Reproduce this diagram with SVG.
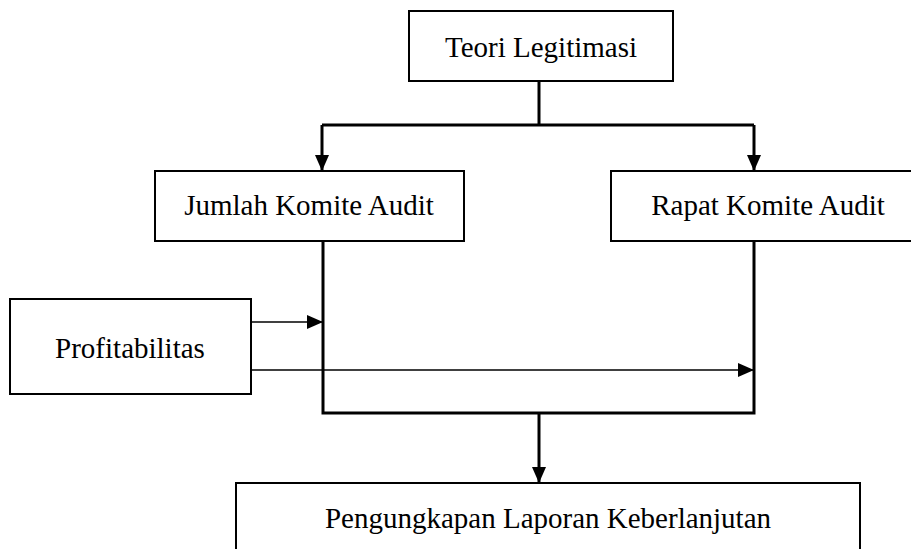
<svg xmlns="http://www.w3.org/2000/svg" width="911" height="549" viewBox="0 0 911 549">
<style>
.box{fill:#fff;stroke:#000;stroke-width:2}
.lbl{font-family:"Liberation Serif","Times New Roman",serif;font-size:29px;fill:#000;text-anchor:middle}
.thick{fill:none;stroke:#000;stroke-width:3}
.thin{fill:none;stroke:#000;stroke-width:1.3}
</style>
<defs>
<marker id="ah" markerUnits="userSpaceOnUse" markerWidth="16" markerHeight="14" refX="16" refY="7" orient="auto" viewBox="0 0 16 14">
<path d="M0,0 L16,7 L0,14 z" fill="#000"/>
</marker>
</defs>
<rect width="911" height="549" fill="#fff"/>
<g id="connectors">
<path class="thick" d="M539,81 V125"/>
<path class="thick" d="M322,125 H754"/>
<path class="thick" d="M322,125 V171" marker-end="url(#ah)"/>
<path class="thick" d="M754,125 V171" marker-end="url(#ah)"/>
<path class="thick" d="M323,241 V413 H754 V241"/>
<path class="thick" d="M539,413 V483" marker-end="url(#ah)"/>
<path class="thin" d="M251,322 H323" marker-end="url(#ah)"/>
<path class="thin" d="M251,370 H754" marker-end="url(#ah)"/>
</g>
<g id="teori">
<rect class="box" x="409" y="11" width="264" height="70"/>
<text class="lbl" x="541" y="57">Teori Legitimasi</text>
</g>
<g id="jumlah">
<rect class="box" x="155" y="171" width="309" height="70"/>
<text class="lbl" x="309" y="215">Jumlah Komite Audit</text>
</g>
<g id="rapat">
<rect class="box" x="611" y="171" width="320" height="70"/>
<text class="lbl" x="768" y="215">Rapat Komite Audit</text>
</g>
<g id="profitabilitas">
<rect class="box" x="10" y="299" width="241" height="95"/>
<text class="lbl" x="130" y="358">Profitabilitas</text>
</g>
<g id="pengungkapan">
<rect class="box" x="236" y="483" width="624" height="100"/>
<text class="lbl" x="548" y="528">Pengungkapan Laporan Keberlanjutan</text>
</g>
</svg>
